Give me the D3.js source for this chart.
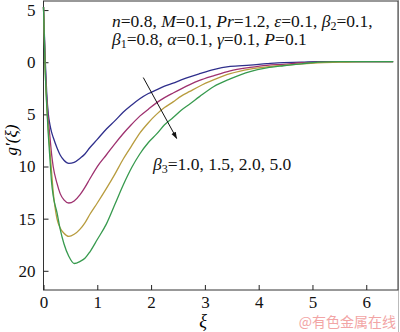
<!DOCTYPE html>
<html>
<head>
<meta charset="utf-8">
<script src="https://cdn.jsdelivr.net/npm/d3@7"></script>
<style>
  body { margin: 0; background: #fff; }
  svg { display: block; }
  svg text { font-family: "Liberation Serif", "Times New Roman", Times, "DejaVu Serif", serif; }
  .axis path, .axis line { stroke: #222; }
  .axis text { font-size: 17px; fill: #111; }
</style>
</head>
<body>
<div id="chart"></div>
<script>
// shared abscissa (xi) and one array per beta3 curve
const xi = [0, 0.03, 0.06, 0.09, 0.12, 0.15, 0.18, 0.25, 0.31, 0.38, 0.47, 0.57, 0.68, 0.77, 0.86,
  1.0, 1.17, 1.33, 1.48, 1.64, 1.79, 1.95, 2.1, 2.25, 2.41, 2.56, 2.72, 2.9, 3.16, 3.47, 3.84,
  4.15, 4.46, 4.8, 5.1, 5.5, 6.0, 6.5];
const beta3_10 = [5.3, 0.5, -3.0, -5.0, -6.0, -6.7, -7.2, -8.2, -8.9, -9.4, -9.7, -9.6, -9.2, -8.8, -8.2,
  -7.4, -6.4, -5.6, -4.8, -4.1, -3.5, -3.0, -2.65, -2.3, -2.0, -1.7, -1.4, -1.1, -0.7, -0.4, -0.28,
  -0.14, -0.03, 0.0, 0.05, 0.05, 0.05, 0.05];
const beta3_15 = [5.3, 0.0, -3.5, -5.5, -7.2, -8.8, -10.0, -11.6, -12.6, -13.2, -13.5, -13.3, -12.7, -12.0, -11.2,
  -10.0, -8.87, -7.8, -6.86, -5.95, -5.17, -4.5, -3.9, -3.4, -2.95, -2.55, -2.15, -1.75, -1.3, -0.82, -0.5,
  -0.3, -0.2, -0.05, 0.0, 0.05, 0.05, 0.05];
const beta3_20 = [5.3, -0.5, -4.0, -6.5, -8.5, -10.5, -12.4, -15.0, -15.9, -16.4, -16.7, -16.5, -16.0, -15.4, -14.6,
  -13.5, -12.1, -10.7, -9.3, -8.0, -6.8, -5.8, -5.0, -4.35, -3.8, -3.25, -2.8, -2.3, -1.7, -1.1, -0.66,
  -0.45, -0.3, -0.15, -0.05, 0.0, 0.05, 0.05];
const beta3_50 = [5.3, -0.5, -4.2, -7.0, -9.3, -11.5, -12.8, -14.4, -16.0, -17.4, -18.6, -19.3, -19.1, -18.8, -18.2,
  -17.0, -15.5, -13.6, -11.8, -10.1, -8.8, -7.7, -6.9, -6.0, -5.3, -4.6, -4.0, -3.3, -2.35, -1.6, -0.9,
  -0.55, -0.34, -0.15, 0.0, 0.05, 0.05, 0.05];
const seriesColors = ["#2f2f8c", "#9e316f", "#b89c3e", "#379a4e"];
const xTicks = [0, 1, 2, 3, 4, 5, 6];
const yTicks = [5, 0, -5, -10, -15, -20];

const W = 400, H = 332;
const margin = {top: 1, right: 2, bottom: 42, left: 43.5};
const width = W - margin.left - margin.right;
const height = H - margin.top - margin.bottom;

const svg = d3.select("#chart").append("svg")
  .attr("width", W).attr("height", H);

// light image border on the right
svg.append("line").attr("x1", W - 1.5).attr("x2", W - 1.5).attr("y1", 0).attr("y2", H)
  .attr("stroke", "#bbb");

const g = svg.append("g").attr("transform", `translate(${margin.left},${margin.top})`);

const x = d3.scaleLinear().domain([0, 6.59]).range([0, width]);
const y = d3.scaleLinear().domain([-21.84, 5.87]).range([height, 0]);

// frame
g.append("rect").attr("width", width).attr("height", height)
  .attr("fill", "none").attr("stroke", "#333").attr("stroke-width", 1);

g.append("g").attr("class", "axis")
  .attr("transform", `translate(0,${height})`)
  .call(d3.axisBottom(x).tickValues(xTicks).tickSize(-5).tickPadding(6).tickFormat(d3.format("d")))
  .call(a => a.attr("font-family", null).select(".domain").remove());

g.append("g").attr("class", "axis")
  .call(d3.axisLeft(y).tickValues(yTicks).tickSize(-5).tickPadding(8).tickFormat(d => Math.abs(d)))
  .call(a => a.attr("font-family", null).select(".domain").remove());

const line = d3.line().x(d => x(d[0])).y(d => y(d[1])).curve(d3.curveMonotoneX);
[beta3_10, beta3_15, beta3_20, beta3_50].forEach((vals, i) => {
  g.append("path")
    .datum(xi.map((v, j) => [v, vals[j]]))
    .attr("fill", "none")
    .attr("stroke", seriesColors[i])
    .attr("stroke-width", 1.3)
    .attr("d", line);
});

// arrow showing increasing beta3
svg.append("defs").append("marker")
  .attr("id", "arr").attr("viewBox", "0 0 10 10").attr("refX", 9).attr("refY", 5)
  .attr("markerWidth", 7).attr("markerHeight", 7).attr("orient", "auto")
  .append("path").attr("d", "M0,1.5L10,5L0,8.5Z").attr("fill", "#111");
g.append("line")
  .attr("x1", x(1.855)).attr("y1", y(-1.47))
  .attr("x2", x(2.475)).attr("y2", y(-7.3))
  .attr("stroke", "#111").attr("stroke-width", 1)
  .attr("marker-end", "url(#arr)");

// annotations
function rich(sel, parts) {
  parts.forEach(p => {
    const t = sel.append("tspan").text(p.t);
    if (p.i) t.attr("font-style", "italic");
    if (p.sub) t.attr("font-size", "12px").attr("dy", 3);
    if (p.up) t.attr("dy", -3);
  });
}
const txt = svg.append("g").attr("font-size", "17.5px").attr("fill", "#111");
rich(txt.append("text").attr("x", 112).attr("y", 27), [
  {t: "n", i: 1}, {t: "=0.8, "}, {t: "M", i: 1}, {t: "=0.1, "}, {t: "Pr", i: 1}, {t: "=1.2, "},
  {t: "ε", i: 1}, {t: "=0.1, "}, {t: "β", i: 1}, {t: "2", sub: 1}, {t: "=0.1,", up: 1}
]);
rich(txt.append("text").attr("x", 112).attr("y", 45), [
  {t: "β", i: 1}, {t: "1", sub: 1}, {t: "=0.8, ", up: 1}, {t: "α", i: 1}, {t: "=0.1, "},
  {t: "γ", i: 1}, {t: "=0.1, "}, {t: "P", i: 1}, {t: "=0.1"}
]);
rich(txt.append("text").attr("x", 153).attr("y", 170), [
  {t: "β", i: 1}, {t: "3", sub: 1}, {t: "=1.0, 1.5, 2.0, 5.0", up: 1}
]);

// axis titles
svg.append("text")
  .attr("transform", "translate(17,140) rotate(-90)")
  .attr("text-anchor", "middle").attr("font-size", "17px").attr("font-style", "italic")
  .text("g′(ξ)");
svg.append("text")
  .attr("x", 203).attr("y", 327).attr("text-anchor", "middle")
  .attr("font-size", "18px").attr("font-style", "italic").text("ξ");

// watermark
svg.append("text")
  .attr("x", 396).attr("y", 327).attr("text-anchor", "end")
  .style("font-family", "'Noto Sans CJK SC', sans-serif").attr("font-size", "14px")
  .attr("fill", "#f2a5a5").text("@有色金属在线");
</script>
</body>
</html>
